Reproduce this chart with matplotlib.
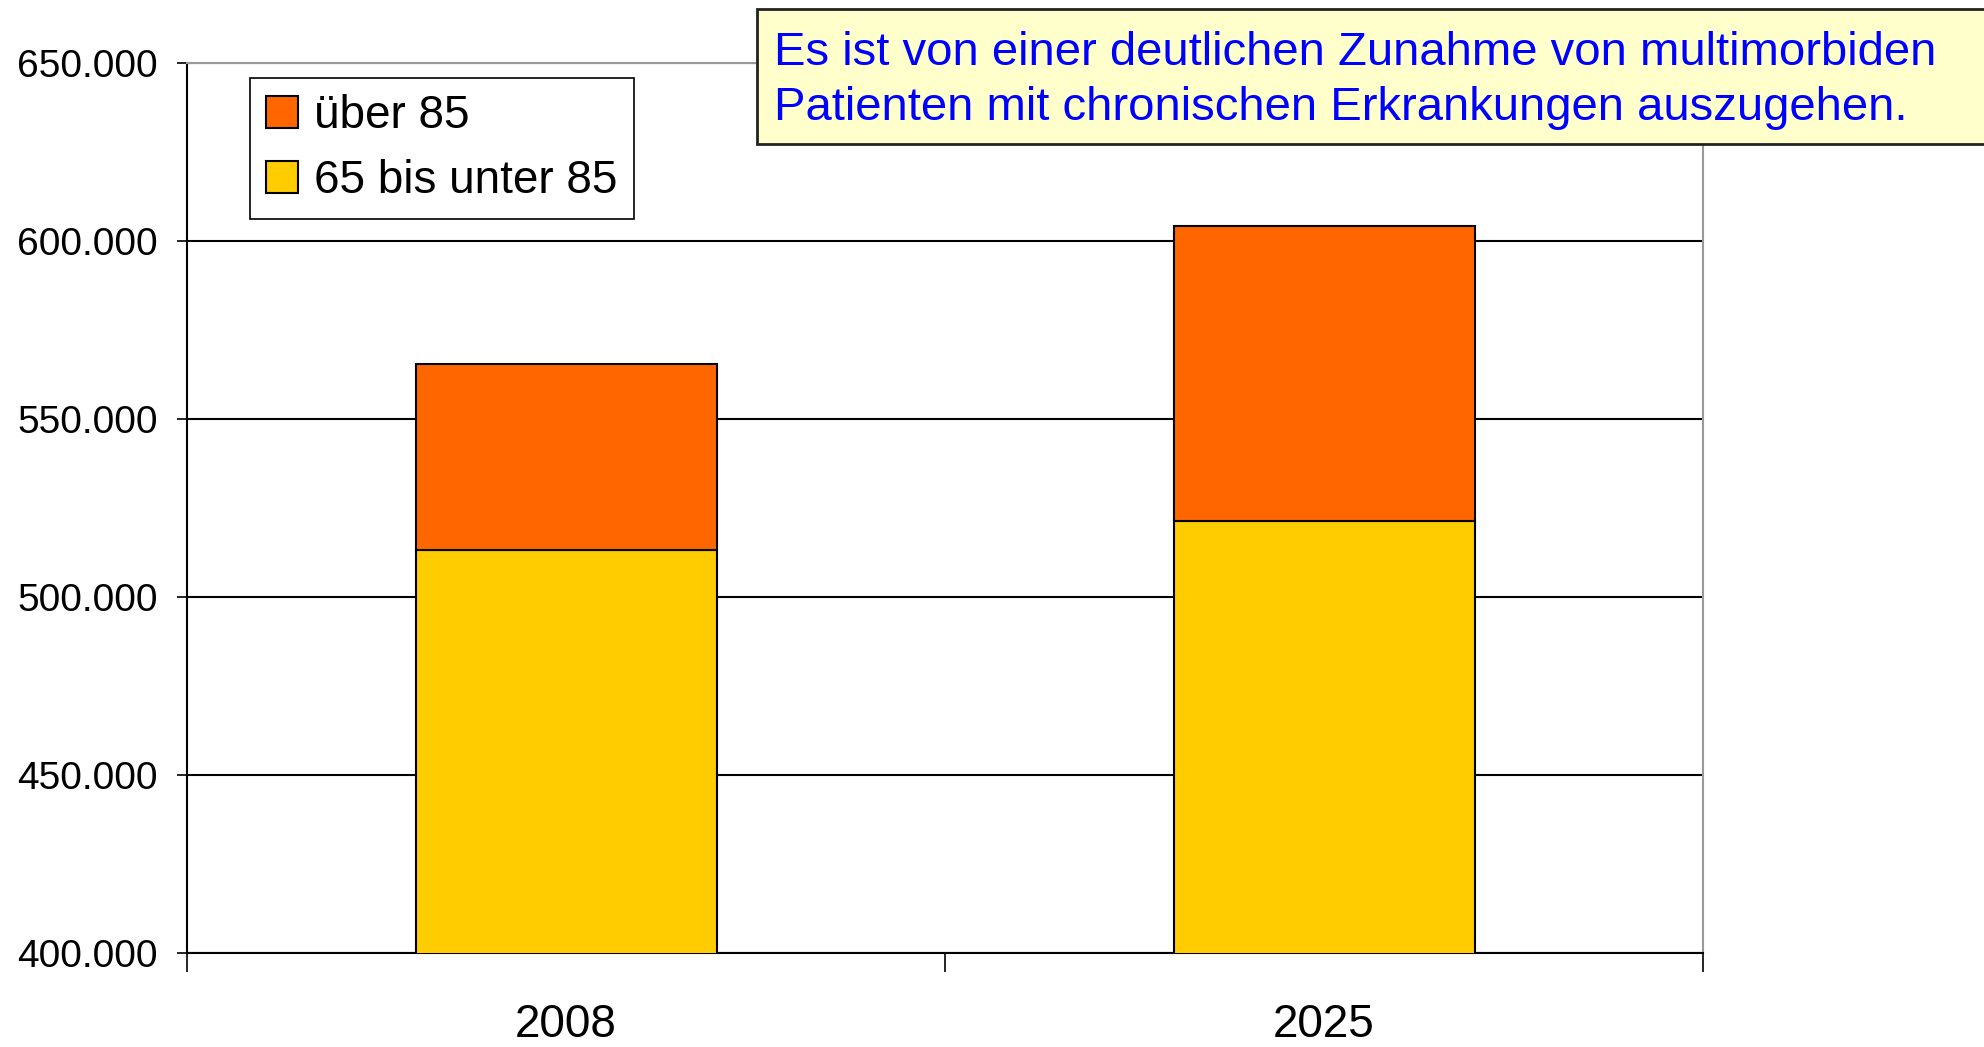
import matplotlib.pyplot as plt
from matplotlib.patches import Rectangle
from matplotlib.ticker import FuncFormatter, FixedLocator

plt.rcParams['font.family'] = ['Liberation Sans', 'DejaVu Sans']

years = ['2008', '2025']
age_65_85 = [513100, 521300]
over_85 = [52300, 82800]
labels = ['über 85', '65 bis unter 85']
colors = ['#FF6600', '#FFCC00']
note = ('Es ist von einer deutlichen Zunahme von multimorbiden\n'
        'Patienten mit chronischen Erkrankungen auszugehen.')

fig = plt.figure(figsize=(19.84, 10.47), dpi=100)
ax = fig.add_axes([0.0943, 0.0898, 0.7641, 0.850])

x = range(len(years))
b1 = ax.bar(x, age_65_85, width=0.397, color=colors[1], edgecolor='black', linewidth=1.5, zorder=3)
b2 = ax.bar(x, over_85, width=0.397, bottom=age_65_85, color=colors[0], edgecolor='black', linewidth=1.5, zorder=3)

ax.set_xlim(-0.5, len(years) - 0.5)
ax.set_ylim(400000, 650000)
ax.set_yticks(range(400000, 650001, 50000))
ax.yaxis.set_major_formatter(FuncFormatter(lambda v, p: f'{v:,.0f}'.replace(',', '.')))
ax.grid(axis='y', color='black', linewidth=1.5, zorder=1)

ax.set_xticks(list(x))
ax.set_xticklabels(years, fontsize=33)
ax.xaxis.set_minor_locator(FixedLocator([-0.5, 0.5, 1.5]))
ax.tick_params(axis='x', which='major', length=0, pad=36)
ax.tick_params(axis='x', which='minor', length=14, width=1.2, direction='out')
ax.tick_params(axis='y', length=7, width=1.2, direction='out', pad=14, labelsize=28)

for s in ['top', 'right']:
    ax.spines[s].set_color('#999999')
    ax.spines[s].set_linewidth(1.5)
ax.spines['left'].set_linewidth(1.5)
ax.spines['bottom'].set_linewidth(1.5)

leg = ax.legend([b2, b1], labels, loc='upper left', bbox_to_anchor=(0.0416, 0.983),
                fontsize=33, fancybox=False, edgecolor='black', framealpha=1,
                handlelength=0.7, handleheight=0.7, handletextpad=0.35,
                borderpad=0.35, labelspacing=0.45, borderaxespad=0)
leg.get_frame().set_linewidth(1.2)

# note box in the upper right corner
fig.patches.append(Rectangle((0.3815, 0.8626), 0.63, 0.129, transform=fig.transFigure,
                             facecolor='#FFFFCC', edgecolor='#222222', linewidth=2, zorder=5))
fig.text(0.390, 0.9235, note, color='#0000FF', fontsize=34, va='center', ha='left',
         linespacing=1.32, zorder=6)

fig.savefig('out.png', dpi=100)
